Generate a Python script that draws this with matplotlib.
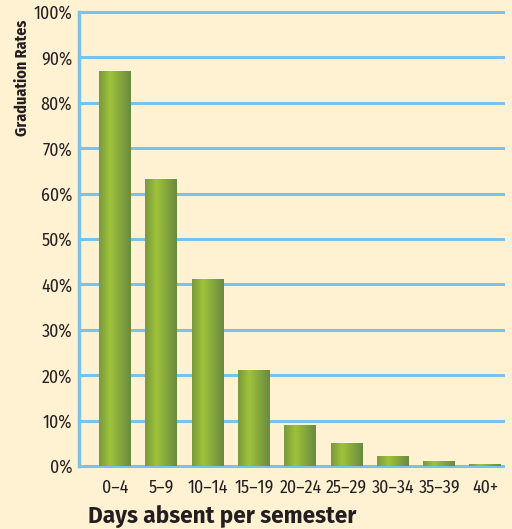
import matplotlib
matplotlib.use("Agg")
import matplotlib.pyplot as plt
import numpy as np
from matplotlib.colors import LinearSegmentedColormap

categories = ["0–4", "5–9", "10–14", "15–19", "20–24", "25–29", "30–34", "35–39", "40+"]
rates = [87, 63, 41, 21, 9, 5, 2, 1, 0.3]
yticks = [0, 10, 20, 30, 40, 50, 60, 70, 80, 90, 100]

cond = ['Fira Sans Condensed', 'DejaVu Sans']
plt.rcParams['font.family'] = cond

bg = "#FEF2D3"
blue = "#7BC2EA"
fig = plt.figure(figsize=(5.12, 5.29), dpi=100, facecolor=bg)
ax = fig.add_axes([79/512, 1-466/529, (503-79)/512, (466-12)/529])
ax.set_facecolor(bg)

for y in yticks:
    ax.axhline(y, color=blue, lw=2.2, zorder=1, clip_on=False)

cmap = LinearSegmentedColormap.from_list("g", [(0, "#7A9A3C"), (0.35, "#9EC23A"), (1, "#6A8A40")])
grad = np.linspace(0, 1, 64).reshape(1, -1)
w = 0.69
x = np.arange(len(categories))
bars = ax.bar(x, rates, width=w, color="none", zorder=2)
for b in bars:
    x0 = b.get_x(); h = b.get_height()
    ax.imshow(grad, cmap=cmap, aspect="auto", extent=[x0, x0 + b.get_width(), 0, h], zorder=2)
ax.set_xlim(-0.78, 8.38)
ax.set_ylim(0, 100)

for s in ["top", "right", "bottom"]:
    ax.spines[s].set_visible(False)
ax.spines["left"].set_color(blue)
ax.spines["left"].set_linewidth(2.5)

ax.set_yticks(yticks)
ax.set_yticklabels([f"{v}%" for v in yticks], fontsize=12.8, color="#231F20")
ax.set_xticks(x)
ax.set_xticklabels(categories, fontsize=12.8, color="#231F20")
ax.tick_params(axis="both", length=0)
ax.tick_params(axis="y", pad=5)
ax.tick_params(axis="x", pad=9)

fig.text(22/512, 1-78/529, "Graduation Rates", rotation=90, ha="center", va="center",
         fontsize=11.5, fontweight="bold", color="#231F20")
fig.text(88/512, 1-516/529, "Days absent per semester", ha="left", va="center",
         fontsize=16.3, fontweight="bold", color="#231F20", family=['Fira Sans', 'DejaVu Sans'])

fig.savefig("out.png", dpi=100, facecolor=bg)
